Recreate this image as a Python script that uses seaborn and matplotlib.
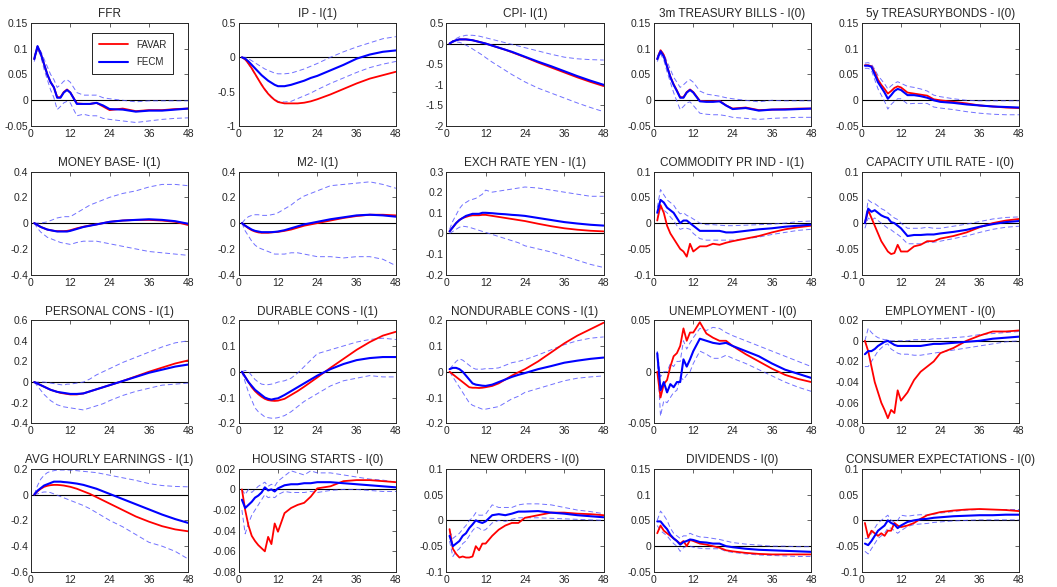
import matplotlib
matplotlib.use("Agg")
import matplotlib.pyplot as plt
import seaborn as sns
from matplotlib.ticker import MultipleLocator, FuncFormatter

H = [1, 2, 3, 4, 5, 6, 7, 8, 9, 10, 11, 12, 14, 16, 18, 20, 22, 24, 28, 32, 36, 40, 44, 48]

# --- row 1 ---
ffr_favar = [0.080, 0.104, 0.090, 0.070, 0.050, 0.035, 0.025, 0.006, 0.006, 0.016, 0.021, 0.015, -0.006, -0.007, -0.007, -0.005, -0.012, -0.019, -0.016, -0.021, -0.019, -0.019, -0.017, -0.016]
ffr_fecm = [0.080, 0.105, 0.090, 0.070, 0.050, 0.035, 0.025, 0.005, 0.005, 0.015, 0.020, 0.015, -0.007, -0.007, -0.007, -0.005, -0.010, -0.017, -0.018, -0.022, -0.020, -0.020, -0.018, -0.016]
ffr_hi = [0.085, 0.105, 0.095, 0.080, 0.065, 0.050, 0.040, 0.025, 0.030, 0.037, 0.040, 0.035, 0.015, 0.010, 0.010, 0.010, 0.005, 0.003, 0.000, -0.003, -0.001, -0.001, -0.001, -0.001]
ffr_lo = [0.075, 0.100, 0.085, 0.060, 0.040, 0.020, 0.005, -0.018, -0.012, -0.005, -0.002, -0.005, -0.030, -0.027, -0.030, -0.030, -0.035, -0.037, -0.040, -0.043, -0.040, -0.037, -0.035, -0.034]

ip_favar = [0, -0.03, -0.09, -0.16, -0.24, -0.32, -0.40, -0.47, -0.53, -0.58, -0.62, -0.65, -0.67, -0.67, -0.67, -0.66, -0.64, -0.61, -0.54, -0.46, -0.38, -0.31, -0.26, -0.21]
ip_fecm = [0, -0.02, -0.06, -0.11, -0.16, -0.21, -0.26, -0.30, -0.34, -0.37, -0.40, -0.42, -0.42, -0.40, -0.37, -0.34, -0.30, -0.27, -0.19, -0.11, -0.02, 0.04, 0.08, 0.10]
ip_hi = [0, 0, -0.02, -0.05, -0.08, -0.11, -0.14, -0.17, -0.19, -0.21, -0.23, -0.24, -0.24, -0.23, -0.20, -0.17, -0.13, -0.09, 0.00, 0.08, 0.15, 0.21, 0.27, 0.30]
ip_lo = [0, -0.04, -0.10, -0.17, -0.25, -0.32, -0.39, -0.46, -0.52, -0.57, -0.61, -0.64, -0.65, -0.64, -0.60, -0.56, -0.52, -0.47, -0.38, -0.30, -0.22, -0.15, -0.10, -0.06]

cpi_favar = [0, 0.05, 0.08, 0.10, 0.10, 0.10, 0.09, 0.08, 0.06, 0.04, 0.02, 0.00, -0.05, -0.10, -0.15, -0.21, -0.27, -0.33, -0.46, -0.58, -0.70, -0.82, -0.93, -1.03]
cpi_fecm = [0, 0.05, 0.08, 0.10, 0.10, 0.10, 0.09, 0.08, 0.06, 0.04, 0.02, 0.00, -0.05, -0.10, -0.15, -0.20, -0.26, -0.32, -0.44, -0.55, -0.67, -0.79, -0.90, -1.00]
cpi_hi = [0, 0.07, 0.12, 0.16, 0.18, 0.20, 0.20, 0.20, 0.19, 0.18, 0.16, 0.14, 0.10, 0.06, 0.02, -0.02, -0.06, -0.10, -0.18, -0.26, -0.33, -0.37, -0.39, -0.40]
cpi_lo = [0, 0.03, 0.04, 0.03, 0.00, -0.04, -0.08, -0.13, -0.18, -0.23, -0.28, -0.34, -0.45, -0.55, -0.65, -0.75, -0.84, -0.93, -1.08, -1.20, -1.32, -1.44, -1.55, -1.65]

tb3_favar = [0.080, 0.097, 0.088, 0.066, 0.046, 0.031, 0.019, 0.006, 0.006, 0.016, 0.021, 0.016, -0.001, -0.002, -0.002, -0.001, -0.010, -0.016, -0.014, -0.019, -0.018, -0.017, -0.016, -0.016]
tb3_fecm = [0.080, 0.095, 0.085, 0.065, 0.045, 0.030, 0.018, 0.005, 0.005, 0.015, 0.020, 0.015, -0.002, -0.003, -0.003, -0.002, -0.010, -0.017, -0.015, -0.020, -0.018, -0.018, -0.017, -0.016]
tb3_hi = [0.085, 0.098, 0.090, 0.075, 0.060, 0.045, 0.035, 0.025, 0.030, 0.036, 0.040, 0.035, 0.018, 0.012, 0.010, 0.008, 0.005, 0.003, 0.000, -0.003, 0.000, -0.001, -0.001, -0.001]
tb3_lo = [0.075, 0.090, 0.078, 0.055, 0.035, 0.015, -0.002, -0.018, -0.012, -0.005, -0.003, -0.010, -0.025, -0.027, -0.028, -0.028, -0.030, -0.033, -0.035, -0.037, -0.035, -0.034, -0.033, -0.033]

tb5_favar = [0.068, 0.068, 0.066, 0.055, 0.040, 0.030, 0.022, 0.013, 0.018, 0.024, 0.027, 0.025, 0.015, 0.013, 0.011, 0.009, 0.002, 0.000, -0.003, -0.006, -0.010, -0.012, -0.014, -0.015]
tb5_fecm = [0.067, 0.067, 0.065, 0.050, 0.035, 0.025, 0.015, 0.003, 0.010, 0.018, 0.022, 0.020, 0.010, 0.010, 0.008, 0.005, 0.000, -0.003, -0.005, -0.008, -0.010, -0.012, -0.013, -0.014]
tb5_hi = [0.072, 0.073, 0.070, 0.060, 0.048, 0.040, 0.032, 0.022, 0.028, 0.033, 0.036, 0.033, 0.027, 0.025, 0.022, 0.018, 0.010, 0.007, 0.003, 0.000, -0.001, -0.001, -0.001, -0.001]
tb5_lo = [0.062, 0.062, 0.058, 0.040, 0.022, 0.010, -0.002, -0.017, -0.008, -0.002, 0.003, 0.003, -0.007, -0.006, -0.006, -0.006, -0.013, -0.015, -0.018, -0.022, -0.025, -0.027, -0.028, -0.028]

# --- row 2 ---
mb_favar = [0, -0.015, -0.03, -0.04, -0.05, -0.055, -0.06, -0.062, -0.062, -0.062, -0.06, -0.055, -0.04, -0.028, -0.018, -0.01, 0.0, 0.01, 0.02, 0.025, 0.025, 0.02, 0.01, -0.015]
mb_fecm = [0, -0.015, -0.03, -0.04, -0.05, -0.055, -0.06, -0.065, -0.065, -0.065, -0.065, -0.06, -0.045, -0.03, -0.02, -0.01, 0.0, 0.01, 0.02, 0.025, 0.03, 0.025, 0.015, -0.005]
mb_hi = [0, 0, 0, 0.005, 0.01, 0.02, 0.03, 0.04, 0.045, 0.05, 0.05, 0.05, 0.08, 0.11, 0.14, 0.16, 0.18, 0.20, 0.23, 0.25, 0.28, 0.30, 0.30, 0.29]
mb_lo = [0, -0.04, -0.07, -0.09, -0.11, -0.12, -0.13, -0.14, -0.15, -0.155, -0.16, -0.165, -0.15, -0.14, -0.14, -0.14, -0.15, -0.16, -0.18, -0.20, -0.22, -0.23, -0.24, -0.25]

m2_favar = [0, -0.02, -0.04, -0.055, -0.065, -0.072, -0.075, -0.075, -0.075, -0.072, -0.07, -0.068, -0.06, -0.05, -0.035, -0.02, -0.01, 0.0, 0.02, 0.04, 0.055, 0.065, 0.065, 0.06]
m2_fecm = [0, -0.02, -0.035, -0.05, -0.06, -0.065, -0.07, -0.07, -0.07, -0.07, -0.068, -0.065, -0.055, -0.04, -0.025, -0.01, 0.0, 0.01, 0.03, 0.045, 0.06, 0.065, 0.06, 0.05]
m2_hi = [0, 0.03, 0.05, 0.06, 0.065, 0.065, 0.06, 0.06, 0.06, 0.065, 0.07, 0.08, 0.11, 0.14, 0.18, 0.21, 0.23, 0.25, 0.29, 0.30, 0.31, 0.32, 0.30, 0.27]
m2_lo = [0, -0.06, -0.10, -0.14, -0.17, -0.19, -0.20, -0.21, -0.22, -0.23, -0.24, -0.24, -0.24, -0.23, -0.23, -0.24, -0.25, -0.26, -0.26, -0.27, -0.26, -0.26, -0.28, -0.33]

yen_favar = [0.01, 0.03, 0.05, 0.065, 0.075, 0.08, 0.085, 0.088, 0.088, 0.088, 0.09, 0.09, 0.085, 0.08, 0.075, 0.07, 0.065, 0.06, 0.047, 0.035, 0.025, 0.018, 0.013, 0.01]
yen_fecm = [0.01, 0.03, 0.05, 0.065, 0.075, 0.085, 0.09, 0.095, 0.095, 0.095, 0.1, 0.1, 0.098, 0.095, 0.093, 0.09, 0.088, 0.085, 0.075, 0.065, 0.055, 0.048, 0.042, 0.038]
yen_hi = [0.02, 0.06, 0.09, 0.12, 0.14, 0.15, 0.16, 0.165, 0.17, 0.18, 0.19, 0.21, 0.20, 0.205, 0.21, 0.215, 0.22, 0.225, 0.22, 0.21, 0.20, 0.19, 0.18, 0.18]
yen_lo = [0.0, 0.01, 0.02, 0.03, 0.035, 0.033, 0.03, 0.025, 0.02, 0.015, 0.01, 0.005, -0.005, -0.015, -0.025, -0.035, -0.045, -0.06, -0.075, -0.09, -0.11, -0.13, -0.15, -0.165]

com_favar = [0.005, 0.035, 0.02, -0.005, -0.02, -0.03, -0.04, -0.05, -0.055, -0.065, -0.04, -0.055, -0.045, -0.045, -0.04, -0.042, -0.038, -0.035, -0.03, -0.025, -0.018, -0.012, -0.008, -0.005]
com_fecm = [0.02, 0.045, 0.04, 0.03, 0.025, 0.02, 0.01, 0.0, 0.005, 0.005, 0.0, -0.005, -0.015, -0.015, -0.015, -0.015, -0.018, -0.018, -0.015, -0.012, -0.01, -0.007, -0.005, -0.003]
com_hi = [0.03, 0.065, 0.055, 0.045, 0.04, 0.035, 0.025, 0.018, 0.02, 0.015, 0.012, 0.008, 0.0, -0.003, -0.003, -0.004, -0.005, -0.005, -0.004, -0.003, -0.002, 0.0, 0.003, 0.004]
com_lo = [0.01, 0.03, 0.025, 0.02, 0.012, 0.005, -0.005, -0.012, -0.01, -0.01, -0.012, -0.02, -0.03, -0.033, -0.033, -0.033, -0.033, -0.033, -0.03, -0.027, -0.022, -0.018, -0.014, -0.012]

cap_favar = [0.0, 0.025, 0.01, -0.005, -0.02, -0.035, -0.045, -0.055, -0.06, -0.058, -0.042, -0.055, -0.055, -0.045, -0.042, -0.035, -0.035, -0.03, -0.025, -0.018, -0.008, 0.0, 0.005, 0.008]
cap_fecm = [0.0, 0.028, 0.022, 0.025, 0.02, 0.015, 0.012, 0.01, 0.002, 0.0, -0.005, -0.01, -0.025, -0.023, -0.023, -0.022, -0.022, -0.02, -0.017, -0.013, -0.007, -0.002, 0.002, 0.004]
cap_hi = [0.0, 0.045, 0.04, 0.038, 0.033, 0.028, 0.025, 0.02, 0.015, 0.01, 0.007, 0.0, -0.01, -0.01, -0.01, -0.008, -0.01, -0.01, -0.006, -0.002, 0.003, 0.008, 0.011, 0.012]
cap_lo = [-0.01, 0.01, 0.005, 0.01, 0.005, 0.0, -0.005, -0.01, -0.013, -0.018, -0.022, -0.027, -0.04, -0.04, -0.04, -0.037, -0.037, -0.035, -0.03, -0.025, -0.018, -0.012, -0.008, -0.006]

# --- row 3 ---
pc_favar = [0, -0.015, -0.03, -0.045, -0.06, -0.075, -0.085, -0.095, -0.105, -0.11, -0.115, -0.12, -0.12, -0.11, -0.09, -0.07, -0.05, -0.03, 0.01, 0.055, 0.10, 0.14, 0.18, 0.21]
pc_fecm = [0, -0.015, -0.03, -0.045, -0.06, -0.075, -0.085, -0.095, -0.10, -0.105, -0.11, -0.115, -0.115, -0.11, -0.09, -0.07, -0.05, -0.03, 0.01, 0.05, 0.09, 0.12, 0.15, 0.17]
pc_hi = [0, 0, 0, 0, -0.005, -0.01, -0.015, -0.02, -0.025, -0.03, -0.02, -0.02, -0.01, 0.0, 0.03, 0.07, 0.10, 0.13, 0.19, 0.24, 0.29, 0.34, 0.38, 0.40]
pc_lo = [0, -0.04, -0.08, -0.12, -0.15, -0.18, -0.20, -0.22, -0.23, -0.24, -0.245, -0.25, -0.26, -0.27, -0.25, -0.23, -0.21, -0.18, -0.13, -0.09, -0.06, -0.03, -0.02, -0.01]

dc_favar = [0, -0.02, -0.04, -0.06, -0.075, -0.087, -0.097, -0.105, -0.11, -0.112, -0.113, -0.112, -0.105, -0.09, -0.075, -0.058, -0.04, -0.022, 0.015, 0.05, 0.085, 0.115, 0.14, 0.155]
dc_fecm = [0, -0.02, -0.04, -0.055, -0.07, -0.08, -0.09, -0.1, -0.105, -0.108, -0.105, -0.103, -0.09, -0.075, -0.06, -0.045, -0.03, -0.015, 0.01, 0.03, 0.045, 0.053, 0.057, 0.057]
dc_hi = [0, 0.005, 0.0, -0.015, -0.03, -0.04, -0.048, -0.05, -0.05, -0.048, -0.045, -0.04, -0.035, -0.025, -0.005, 0.02, 0.045, 0.07, 0.085, 0.10, 0.115, 0.125, 0.13, 0.125]
dc_lo = [0, -0.04, -0.08, -0.11, -0.14, -0.155, -0.165, -0.175, -0.178, -0.18, -0.18, -0.178, -0.17, -0.155, -0.135, -0.115, -0.1, -0.085, -0.055, -0.035, -0.025, -0.015, -0.02, -0.02]

nd_favar = [0.0, -0.01, -0.02, -0.03, -0.04, -0.05, -0.06, -0.062, -0.062, -0.063, -0.062, -0.06, -0.055, -0.045, -0.03, -0.015, -0.002, 0.01, 0.04, 0.075, 0.11, 0.14, 0.165, 0.19]
nd_fecm = [0.01, 0.015, 0.015, 0.01, 0.0, -0.015, -0.03, -0.045, -0.05, -0.052, -0.054, -0.055, -0.05, -0.04, -0.03, -0.02, -0.012, -0.005, 0.01, 0.022, 0.035, 0.043, 0.05, 0.055]
nd_hi = [0.01, 0.025, 0.04, 0.05, 0.045, 0.035, 0.025, 0.015, 0.01, 0.01, 0.01, 0.012, 0.012, 0.015, 0.025, 0.035, 0.04, 0.047, 0.065, 0.085, 0.105, 0.12, 0.13, 0.135]
nd_lo = [0.0, -0.02, -0.04, -0.06, -0.08, -0.1, -0.12, -0.13, -0.135, -0.14, -0.145, -0.145, -0.14, -0.135, -0.12, -0.105, -0.095, -0.08, -0.065, -0.05, -0.035, -0.025, -0.02, -0.016]

un_favar = [0.0, -0.025, -0.012, -0.008, 0.005, 0.015, 0.018, 0.025, 0.042, 0.03, 0.038, 0.038, 0.048, 0.037, 0.033, 0.03, 0.03, 0.025, 0.017, 0.01, 0.003, -0.003, -0.007, -0.01]
un_fecm = [0.018, -0.018, -0.01, -0.02, -0.012, -0.015, -0.01, -0.01, 0.012, 0.005, 0.012, 0.02, 0.032, 0.03, 0.028, 0.027, 0.028, 0.025, 0.02, 0.015, 0.008, 0.002, -0.002, -0.006]
un_hi = [0.02, -0.005, 0.0, 0.0, 0.008, 0.005, 0.01, 0.01, 0.03, 0.022, 0.028, 0.033, 0.042, 0.04, 0.043, 0.042, 0.038, 0.035, 0.03, 0.025, 0.02, 0.015, 0.01, 0.005]
un_lo = [0.015, -0.043, -0.028, -0.03, -0.025, -0.02, -0.018, -0.005, -0.008, -0.003, 0.0, 0.008, 0.02, 0.017, 0.013, 0.013, 0.016, 0.013, 0.008, 0.002, -0.004, -0.01, -0.015, -0.019]

em_favar = [0.0, -0.01, -0.025, -0.04, -0.05, -0.06, -0.067, -0.075, -0.067, -0.07, -0.048, -0.058, -0.05, -0.038, -0.03, -0.025, -0.02, -0.012, -0.007, 0.0, 0.005, 0.009, 0.009, 0.01]
em_fecm = [-0.013, -0.01, -0.01, -0.008, -0.005, -0.003, -0.001, 0.0, -0.002, -0.004, -0.005, -0.005, -0.005, -0.005, -0.005, -0.004, -0.003, -0.003, -0.002, -0.001, 0.0, 0.002, 0.003, 0.004]
em_hi = [0.0, 0.012, 0.008, 0.005, 0.003, 0.002, 0.001, 0.001, 0.0, 0.0, 0.0, 0.0, 0.0, 0.001, 0.001, 0.001, 0.002, 0.002, 0.003, 0.004, 0.006, 0.007, 0.008, 0.009]
em_lo = [-0.025, -0.025, -0.02, -0.015, -0.01, -0.007, -0.004, -0.003, -0.008, -0.01, -0.012, -0.013, -0.013, -0.014, -0.014, -0.013, -0.012, -0.011, -0.009, -0.007, -0.005, -0.003, -0.001, 0.0]

# --- row 4 ---
ahe_favar = [0, 0.025, 0.045, 0.06, 0.068, 0.073, 0.075, 0.075, 0.073, 0.07, 0.065, 0.06, 0.045, 0.025, 0.005, -0.02, -0.045, -0.07, -0.12, -0.17, -0.21, -0.245, -0.27, -0.285]
ahe_fecm = [0, 0.03, 0.05, 0.07, 0.08, 0.09, 0.1, 0.1, 0.1, 0.097, 0.095, 0.092, 0.085, 0.075, 0.06, 0.045, 0.025, 0.005, -0.035, -0.075, -0.115, -0.155, -0.19, -0.22]
ahe_hi = [0, 0.07, 0.12, 0.15, 0.17, 0.18, 0.185, 0.19, 0.19, 0.19, 0.19, 0.19, 0.185, 0.18, 0.175, 0.17, 0.16, 0.15, 0.13, 0.11, 0.085, 0.07, 0.063, 0.06]
ahe_lo = [0, 0.005, 0.015, 0.02, 0.02, 0.015, 0.005, -0.005, -0.015, -0.025, -0.035, -0.045, -0.065, -0.085, -0.11, -0.14, -0.17, -0.2, -0.25, -0.31, -0.37, -0.4, -0.44, -0.5]

hs_favar = [0.0, -0.02, -0.035, -0.045, -0.05, -0.054, -0.057, -0.06, -0.046, -0.053, -0.033, -0.041, -0.023, -0.018, -0.015, -0.013, -0.007, 0.001, 0.003, 0.008, 0.009, 0.009, 0.008, 0.007]
hs_fecm = [-0.01, -0.018, -0.015, -0.012, -0.008, -0.006, -0.003, 0.002, -0.001, 0.0, -0.002, 0.001, 0.004, 0.005, 0.005, 0.006, 0.006, 0.007, 0.007, 0.006, 0.005, 0.004, 0.003, 0.002]
hs_hi = [0.0, -0.005, 0.0, -0.003, 0.0, 0.003, 0.005, 0.007, 0.003, 0.005, 0.003, 0.008, 0.013, 0.018, 0.016, 0.014, 0.018, 0.016, 0.016, 0.014, 0.012, 0.01, 0.009, 0.007]
hs_lo = [-0.02, -0.043, -0.033, -0.025, -0.02, -0.015, -0.01, -0.005, -0.008, -0.007, -0.008, -0.005, -0.002, -0.003, -0.003, -0.003, -0.002, -0.003, -0.001, 0.0, 0.0, -0.001, -0.002, -0.002]

no_favar = [-0.017, -0.055, -0.065, -0.072, -0.07, -0.072, -0.072, -0.07, -0.05, -0.058, -0.045, -0.045, -0.03, -0.018, -0.01, -0.005, -0.005, 0.005, 0.01, 0.015, 0.015, 0.013, 0.012, 0.01]
no_fecm = [-0.03, -0.05, -0.045, -0.04, -0.03, -0.025, -0.015, -0.008, 0.0, -0.003, -0.005, -0.002, 0.01, 0.012, 0.01, 0.013, 0.017, 0.017, 0.018, 0.015, 0.013, 0.01, 0.008, 0.006]
no_hi = [-0.02, -0.035, -0.03, -0.025, -0.017, -0.01, 0.0, 0.005, 0.015, 0.01, 0.01, 0.012, 0.03, 0.025, 0.025, 0.025, 0.03, 0.032, 0.032, 0.03, 0.025, 0.02, 0.017, 0.013]
no_lo = [-0.04, -0.07, -0.06, -0.055, -0.045, -0.04, -0.03, -0.02, -0.013, -0.015, -0.02, -0.018, -0.005, 0.0, -0.002, 0.002, 0.005, 0.005, 0.005, 0.004, 0.003, 0.002, 0.001, 0.0]

dv_favar = [0.025, 0.04, 0.03, 0.025, 0.02, 0.015, 0.01, 0.005, 0.01, 0.0, 0.012, 0.01, 0.005, 0.003, 0.0, -0.003, -0.008, -0.01, -0.013, -0.015, -0.016, -0.016, -0.016, -0.016]
dv_fecm = [0.048, 0.048, 0.04, 0.033, 0.022, 0.015, 0.01, 0.003, 0.008, 0.01, 0.013, 0.012, 0.008, 0.007, 0.005, 0.005, 0.0, -0.002, -0.005, -0.007, -0.008, -0.009, -0.01, -0.011]
dv_hi = [0.05, 0.068, 0.06, 0.05, 0.035, 0.025, 0.02, 0.015, 0.02, 0.02, 0.025, 0.022, 0.018, 0.017, 0.015, 0.013, 0.01, 0.007, 0.004, 0.002, 0.0, 0.0, -0.001, -0.001]
dv_lo = [0.04, 0.03, 0.025, 0.02, 0.012, 0.005, 0.0, -0.01, -0.003, 0.0, 0.0, -0.002, -0.004, -0.005, -0.005, -0.005, -0.01, -0.012, -0.015, -0.017, -0.018, -0.019, -0.02, -0.02]

ce_favar = [-0.005, -0.033, -0.02, -0.025, -0.03, -0.025, -0.03, -0.02, -0.02, -0.005, -0.01, -0.013, -0.01, -0.005, 0.003, 0.01, 0.013, 0.016, 0.019, 0.021, 0.022, 0.021, 0.02, 0.018]
ce_fecm = [-0.045, -0.048, -0.04, -0.03, -0.02, -0.015, -0.01, 0.0, -0.005, -0.008, -0.015, -0.01, -0.003, 0.0, 0.002, 0.003, 0.005, 0.006, 0.008, 0.009, 0.01, 0.01, 0.011, 0.011]
ce_hi = [-0.035, -0.035, -0.025, -0.015, -0.005, 0.0, 0.005, 0.01, 0.0, -0.003, 0.0, 0.01, 0.008, 0.01, 0.011, 0.01, 0.012, 0.014, 0.017, 0.02, 0.021, 0.021, 0.021, 0.021]
ce_lo = [-0.06, -0.065, -0.055, -0.045, -0.035, -0.03, -0.025, -0.015, -0.015, -0.02, -0.025, -0.02, -0.012, -0.008, -0.007, -0.006, -0.004, -0.003, -0.001, 0.0, 0.001, 0.001, 0.001, 0.001]

titles = ["FFR", "IP - I(1)", "CPI- I(1)", "3m TREASURY BILLS - I(0)", "5y TREASURYBONDS - I(0)",
          "MONEY BASE- I(1)", "M2- I(1)", "EXCH RATE YEN - I(1)", "COMMODITY PR IND - I(1)", "CAPACITY UTIL RATE - I(0)",
          "PERSONAL CONS - I(1)", "DURABLE CONS - I(1)", "NONDURABLE CONS - I(1)", "UNEMPLOYMENT - I(0)", "EMPLOYMENT - I(0)",
          "AVG HOURLY EARNINGS - I(1)", "HOUSING STARTS - I(0)", "NEW ORDERS - I(0)", "DIVIDENDS - I(0)", "CONSUMER EXPECTATIONS - I(0)"]
ylims = [(-0.05, 0.15), (-1, 0.5), (-2, 0.5), (-0.05, 0.15), (-0.05, 0.15),
         (-0.4, 0.4), (-0.4, 0.4), (-0.2, 0.3), (-0.1, 0.1), (-0.1, 0.1),
         (-0.4, 0.6), (-0.2, 0.2), (-0.2, 0.2), (-0.05, 0.05), (-0.08, 0.02),
         (-0.6, 0.2), (-0.08, 0.02), (-0.1, 0.1), (-0.05, 0.15), (-0.1, 0.1)]
ysteps = [0.05, 0.5, 0.5, 0.05, 0.05,
          0.2, 0.2, 0.1, 0.05, 0.05,
          0.2, 0.1, 0.1, 0.05, 0.02,
          0.2, 0.02, 0.05, 0.05, 0.05]

favar = [ffr_favar, ip_favar, cpi_favar, tb3_favar, tb5_favar, mb_favar, m2_favar, yen_favar, com_favar, cap_favar,
         pc_favar, dc_favar, nd_favar, un_favar, em_favar, ahe_favar, hs_favar, no_favar, dv_favar, ce_favar]
fecm = [ffr_fecm, ip_fecm, cpi_fecm, tb3_fecm, tb5_fecm, mb_fecm, m2_fecm, yen_fecm, com_fecm, cap_fecm,
        pc_fecm, dc_fecm, nd_fecm, un_fecm, em_fecm, ahe_fecm, hs_fecm, no_fecm, dv_fecm, ce_fecm]
upper = [ffr_hi, ip_hi, cpi_hi, tb3_hi, tb5_hi, mb_hi, m2_hi, yen_hi, com_hi, cap_hi,
         pc_hi, dc_hi, nd_hi, un_hi, em_hi, ahe_hi, hs_hi, no_hi, dv_hi, ce_hi]
lower = [ffr_lo, ip_lo, cpi_lo, tb3_lo, tb5_lo, mb_lo, m2_lo, yen_lo, com_lo, cap_lo,
         pc_lo, dc_lo, nd_lo, un_lo, em_lo, ahe_lo, hs_lo, no_lo, dv_lo, ce_lo]

sns.set_style("white")
plt.rcParams["font.family"] = ["Liberation Sans", "DejaVu Sans"]

fig, axes = plt.subplots(4, 5, figsize=(10.57, 5.87), dpi=100)
fig.subplots_adjust(left=0.0293, right=0.964, bottom=0.0256, top=0.961, wspace=0.32, hspace=0.44)

fmt = FuncFormatter(lambda v, _: "%g" % round(v, 6))

for i, ax in enumerate(axes.flat):
    # confidence bands of FECM
    sns.lineplot(x=H, y=upper[i], ax=ax, color="#4d4dff", lw=0.7, linestyle=(0, (5, 3)), alpha=0.8)
    sns.lineplot(x=H, y=lower[i], ax=ax, color="#4d4dff", lw=0.7, linestyle=(0, (5, 3)), alpha=0.8)
    ax.axhline(0, color="black", lw=0.8, zorder=1)
    sns.lineplot(x=H, y=favar[i], ax=ax, color="red", lw=1.3, label="FAVAR" if i == 0 else None)
    sns.lineplot(x=H, y=fecm[i], ax=ax, color="blue", lw=1.5, label="FECM" if i == 0 else None)

    ax.set_xlim(0, 48)
    ax.set_ylim(*ylims[i])
    ax.set_xticks([0, 12, 24, 36, 48])
    ax.yaxis.set_major_locator(MultipleLocator(ysteps[i]))
    ax.yaxis.set_major_formatter(fmt)
    ax.tick_params(direction="in", length=3, width=0.5, top=True, right=True,
                   labelsize=7.5, colors="#262626", pad=2)
    for s in ax.spines.values():
        s.set_color("#262626")
        s.set_linewidth(0.7)
    ax.set_xlabel("")
    ax.set_ylabel("")
    ax.set_title(titles[i], fontsize=8.5, pad=4)

    if i == 0:
        leg = ax.legend(loc="upper right", bbox_to_anchor=(0.905, 0.905), fontsize=7,
                        handlelength=3.0, fancybox=False, framealpha=1, edgecolor="black",
                        borderaxespad=0, borderpad=0.7, labelspacing=0.8)
        leg.get_frame().set_linewidth(0.6)
    else:
        if ax.get_legend() is not None:
            ax.get_legend().remove()

plt.savefig("out.png", dpi=100)
